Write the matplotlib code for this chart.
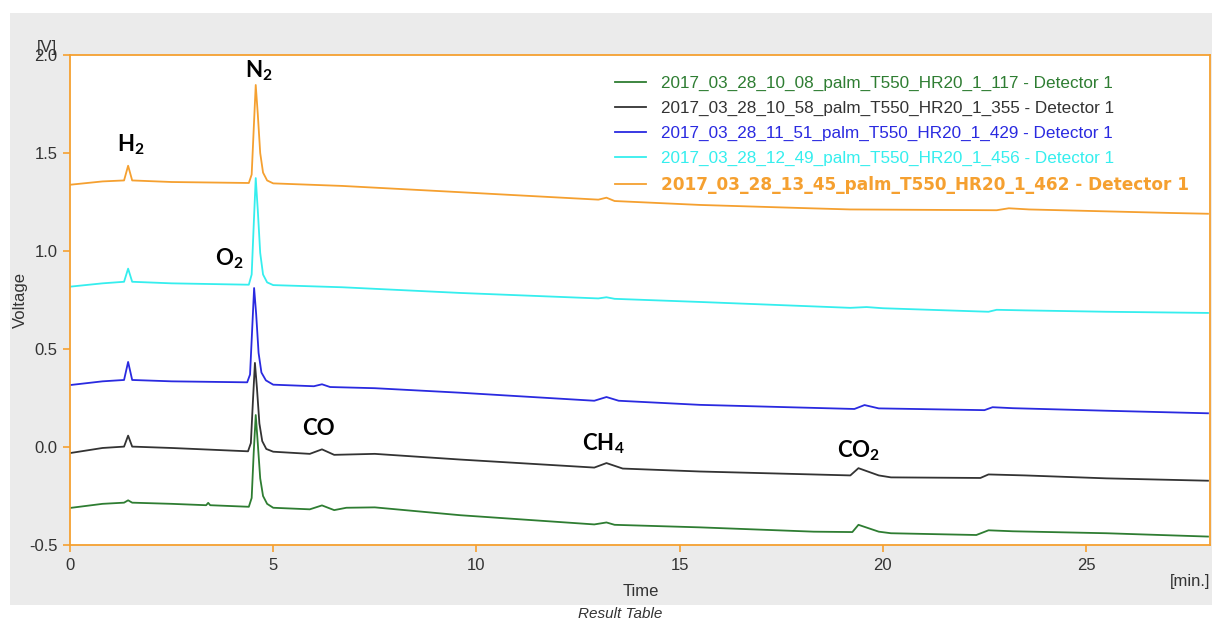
import matplotlib
matplotlib.use("Agg")
import matplotlib.pyplot as plt
from matplotlib.patches import Rectangle

plt.rcParams['font.family'] = ['Liberation Sans', 'DejaVu Sans']
plt.rcParams['mathtext.default'] = 'regular'

# chromatogram traces, (time [min], voltage [V]) vertices
t_117 = [0, 0.8, 1.33, 1.43, 1.53, 2.5, 3.35, 3.4, 3.45, 4.40, 4.47, 4.52, 4.57, 4.62, 4.68, 4.75, 4.85,
         5.0, 5.9, 6.2, 6.5, 6.8, 7.5, 9.6, 12.9, 13.2, 13.4, 15.5, 18.3, 19.25, 19.4, 19.9, 20.2, 22.3,
         22.6, 23.2, 25.5, 28.0]
v_117 = [-0.311, -0.29, -0.284, -0.272, -0.284, -0.29, -0.297, -0.285, -0.297, -0.305, -0.26, -0.03,
         0.163, 0.02, -0.16, -0.25, -0.29, -0.31, -0.318, -0.298, -0.322, -0.31, -0.308, -0.348, -0.395,
         -0.385, -0.397, -0.41, -0.432, -0.434, -0.397, -0.432, -0.44, -0.449, -0.425, -0.43, -0.44,
         -0.457]

t_355 = [0, 0.8, 1.33, 1.43, 1.53, 2.5, 4.38, 4.45, 4.50, 4.55, 4.60, 4.66, 4.73, 4.83, 5.0, 5.9, 6.2,
         6.5, 7.5, 9.6, 12.9, 13.2, 13.6, 15.5, 19.2, 19.4, 19.9, 20.2, 22.4, 22.6, 23.5, 25.5, 28.0]
v_355 = [-0.031, -0.005, 0.002, 0.058, 0.002, -0.005, -0.022, 0.02, 0.23, 0.429, 0.30, 0.12, 0.03,
         -0.01, -0.024, -0.035, -0.012, -0.04, -0.035, -0.064, -0.105, -0.082, -0.11, -0.125, -0.145,
         -0.108, -0.145, -0.155, -0.158, -0.14, -0.145, -0.16, -0.172]

t_429 = [0, 0.8, 1.33, 1.43, 1.53, 2.5, 4.36, 4.43, 4.48, 4.53, 4.58, 4.64, 4.71, 4.82, 5.0, 6.0, 6.2,
         6.4, 7.5, 9.6, 12.9, 13.2, 13.5, 15.5, 19.3, 19.55, 19.9, 22.5, 22.7, 23.2, 25.5, 28.0]
v_429 = [0.316, 0.335, 0.342, 0.434, 0.342, 0.335, 0.33, 0.37, 0.59, 0.811, 0.68, 0.48, 0.38, 0.34,
         0.318, 0.31, 0.32, 0.306, 0.30, 0.277, 0.236, 0.255, 0.236, 0.215, 0.194, 0.214, 0.197, 0.188,
         0.203, 0.198, 0.185, 0.172]

t_456 = [0, 0.8, 1.33, 1.43, 1.53, 2.5, 4.40, 4.47, 4.52, 4.57, 4.62, 4.68, 4.75, 4.85, 5.0, 6.7, 9.6,
         13.0, 13.2, 13.4, 15.5, 19.2, 19.6, 20.0, 22.6, 22.8, 23.5, 25.5, 28.0]
v_456 = [0.818, 0.835, 0.843, 0.91, 0.843, 0.835, 0.828, 0.88, 1.13, 1.372, 1.21, 0.99, 0.88, 0.84,
         0.826, 0.815, 0.786, 0.758, 0.764, 0.756, 0.74, 0.71, 0.714, 0.708, 0.69, 0.70, 0.697, 0.69,
         0.684]

t_462 = [0, 0.8, 1.33, 1.43, 1.53, 2.5, 4.40, 4.47, 4.52, 4.57, 4.62, 4.68, 4.75, 4.85, 5.0, 6.7, 9.6,
         13.0, 13.2, 13.4, 15.5, 18.2, 19.2, 22.8, 23.1, 23.6, 27.1, 28.0]
v_462 = [1.338, 1.355, 1.36, 1.435, 1.36, 1.352, 1.347, 1.39, 1.62, 1.847, 1.70, 1.50, 1.40, 1.36,
         1.345, 1.332, 1.300, 1.262, 1.272, 1.255, 1.235, 1.218, 1.212, 1.208, 1.218, 1.212, 1.194, 1.190]

labels = ['2017_03_28_10_08_palm_T550_HR20_1_117 - Detector 1',
          '2017_03_28_10_58_palm_T550_HR20_1_355 - Detector 1',
          '2017_03_28_11_51_palm_T550_HR20_1_429 - Detector 1',
          '2017_03_28_12_49_palm_T550_HR20_1_456 - Detector 1',
          '2017_03_28_13_45_palm_T550_HR20_1_462 - Detector 1']
colors = ['#2e7d32', '#333333', '#2a2ae0', '#35eeee', '#f5a030']

# peak names: (text, left time, baseline voltage)
peak_names = [r'H$_{\mathregular{2}}$', r'N$_{\mathregular{2}}$', r'O$_{\mathregular{2}}$', 'CO',
              r'CH$_{\mathregular{4}}$', r'CO$_{\mathregular{2}}$']
peak_t = [1.155, 4.30, 3.56, 5.70, 12.60, 18.87]
peak_v = [1.510, 1.888, 0.929, 0.061, -0.015, -0.051]

orange = '#f5a030'

fig = plt.figure(figsize=(12.12, 6.21), dpi=100)
fig.patches.append(Rectangle((0.00825, 0.0258), 0.992, 0.953, transform=fig.transFigure,
                             facecolor='#ebebeb', edgecolor='none', zorder=-10))
ax = fig.add_axes([70 / 1212, 76 / 621, 1140 / 1212, 490 / 621])
ax.set_facecolor('white')

series = [(t_117, v_117), (t_355, v_355), (t_429, v_429), (t_456, v_456), (t_462, v_462)]
for (t, v), c, lab in zip(series, colors, labels):
    ax.plot(t, v, color=c, lw=1.3, label=lab)

ax.set_xlim(0, 28.05)
ax.set_ylim(-0.5, 2.0)
ax.set_xticks([0, 5, 10, 15, 20, 25])
ax.set_yticks([-0.5, 0.0, 0.5, 1.0, 1.5, 2.0])
ax.set_yticklabels(['-0.5', '0.0', '0.5', '1.0', '1.5', '2.0'])
for s in ax.spines.values():
    s.set_color(orange)
    s.set_linewidth(1.3)
ax.tick_params(direction='out', length=5, width=1.2, color=orange, labelcolor='#333333',
               labelsize=12, pad=4)

for name, t, v in zip(peak_names, peak_t, peak_v):
    ax.text(t, v, name, family='Lato', fontweight='bold', fontsize=16, ha='left', va='baseline',
            color='black')

leg = ax.legend(loc='upper left', bbox_to_anchor=(0.478, 0.957), frameon=False, borderpad=0,
                borderaxespad=0, handlelength=1.8, handletextpad=0.9, labelspacing=0.57,
                fontsize=12.3, labelcolor='linecolor')
bold = leg.get_texts()[4]
bold.set_family('DejaVu Sans')
bold.set_fontweight('bold')
bold.set_fontsize(12.2)

fig.text(0.0165, 0.517, 'Voltage', rotation=90, ha='center', va='center', fontsize=12, color='#333333')
fig.text(0.529, 0.048, 'Time', ha='center', va='center', fontsize=12, color='#333333')
fig.text(0.982, 0.0644, '[min.]', ha='center', va='center', fontsize=12, color='#333333')
fig.text(0.0388, 0.924, '[V]', ha='center', va='center', fontsize=12, color='#333333')
fig.text(0.5116, 0.0113, 'Result Table', ha='center', va='center', fontsize=11, style='italic',
         color='#333333')

fig.savefig('out.png', dpi=100)
